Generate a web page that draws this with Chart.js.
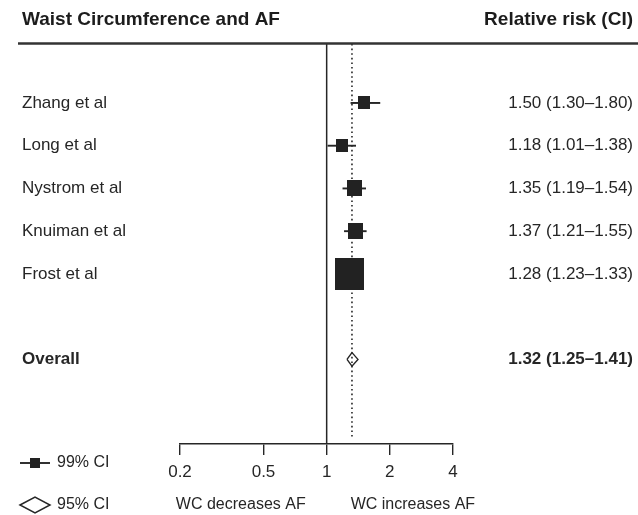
<!DOCTYPE html>
<html>
<head>
<meta charset="utf-8">
<title>Waist Circumference and AF</title>
<script src="https://cdn.jsdelivr.net/npm/chart.js@4.4.0/dist/chart.umd.min.js"></script>
<style>
  html, body { margin: 0; padding: 0; background: #fff; }
  canvas { display: block; }
</style>
</head>
<body>
<canvas id="forest" width="638" height="515"></canvas>
<script>
// data
const studies = ["Zhang et al", "Long et al", "Nystrom et al", "Knuiman et al", "Frost et al"];
const estimates = [1.50, 1.18, 1.35, 1.37, 1.28];
const lower = [1.30, 1.01, 1.19, 1.21, 1.23];
const upper = [1.80, 1.38, 1.54, 1.55, 1.33];
const weights = [9, 9, 14, 14, 54]; // box area ~ weight (estimated)
const overallLabel = "Overall";
const overallEst = 1.32;
const overallLower = 1.25;
const overallUpper = 1.41;
const xTicks = [0.2, 0.5, 1, 2, 4];

const INK = "#262626";
const FONT = '"Liberation Sans", Arial, Helvetica, sans-serif';

// rows: studies on 1..n, a blank row, then the pooled estimate
const overallRow = studies.length + 2;
const rowTicks = studies.map((s, i) => i + 1).concat([overallRow]);
const yMin = -0.38;
const yMax = 8.98;

const fmt = (e, l, u) => `${e.toFixed(2)} (${l.toFixed(2)}–${u.toFixed(2)})`;
const leftLabels = {};
const rightLabels = {};
studies.forEach((s, i) => {
  leftLabels[i + 1] = s;
  rightLabels[i + 1] = fmt(estimates[i], lower[i], upper[i]);
});
leftLabels[overallRow] = overallLabel;
rightLabels[overallRow] = fmt(overallEst, overallLower, overallUpper);

function boxImage(w) {
  const side = 3.9 * Math.sqrt(w);
  const c = document.createElement("canvas");
  c.width = Math.round(side);
  c.height = Math.round(side * 1.12);
  const g = c.getContext("2d");
  g.fillStyle = "#222";
  g.fillRect(0, 0, c.width, c.height);
  return c;
}

const line = (data, extra) => Object.assign({
  data: data,
  showLine: true,
  borderColor: INK,
  borderWidth: 1.9,
  pointRadius: 0,
  fill: false,
}, extra || {});

const datasets = [
  // study boxes (first = drawn on top)
  {
    data: estimates.map((e, i) => ({ x: e, y: i + 1 })),
    pointStyle: weights.map(boxImage),
    pointRadius: 5,
    showLine: false,
  },
  // confidence intervals
  ...studies.map((s, i) => line([{ x: lower[i], y: i + 1 }, { x: upper[i], y: i + 1 }])),
  // pooled diamond
  line([
    { x: overallLower, y: overallRow },
    { x: overallEst, y: overallRow - 0.16 },
    { x: overallUpper, y: overallRow },
    { x: overallEst, y: overallRow + 0.16 },
    { x: overallLower, y: overallRow },
  ], { borderWidth: 1.4 }),
  // dotted line at pooled estimate
  line([{ x: overallEst, y: yMin }, { x: overallEst, y: yMax - 0.12 }], {
    borderDash: [1.6, 3], borderWidth: 1.6,
  }),
  // line of no effect
  line([{ x: 1, y: yMin }, { x: 1, y: yMax }], { borderWidth: 1.5 }),
];

const yAxis = (position, labels) => ({
  type: "linear",
  position: position,
  reverse: true,
  min: yMin,
  max: yMax,
  grid: { display: false },
  border: { display: false },
  afterBuildTicks: (s) => { s.ticks = rowTicks.map((v) => ({ value: v })); },
  afterFit: (s) => { s.width = position === "left" ? 158 : 180; },
  ticks: {
    autoSkip: false,
    crossAlign: "far",
    color: INK,
    font: (c) => ({
      family: FONT,
      size: 17,
      weight: c.tick && c.tick.value === overallRow ? "bold" : "normal",
    }),
    callback: (v) => labels[v],
  },
});

const decor = {
  id: "decor",
  afterDraw(chart) {
    const { ctx } = chart;
    const x = chart.scales.x;
    ctx.save();
    ctx.fillStyle = "#1c1c1c";
    ctx.textBaseline = "alphabetic";
    ctx.font = `bold 19px ${FONT}`;
    ctx.textAlign = "left";
    ctx.fillText("Waist Circumference and AF", 22, 25);
    ctx.textAlign = "right";
    ctx.fillText("Relative risk (CI)", 633, 25);

    ctx.strokeStyle = "#333";
    ctx.lineWidth = 2.5;
    ctx.beginPath();
    ctx.moveTo(18, 43.5);
    ctx.lineTo(638, 43.5);
    ctx.stroke();

    // direction labels under the axis
    const x1 = x.getPixelForValue(1);
    ctx.fillStyle = INK;
    ctx.font = `16px ${FONT}`;
    ctx.textBaseline = "middle";
    ctx.textAlign = "right";
    ctx.fillText("WC decreases AF", x1 - 21, 505);
    ctx.textAlign = "left";
    ctx.fillText("WC increases AF", x1 + 24, 505);

    // key
    ctx.fillText("99% CI", 57, 463);
    ctx.fillText("95% CI", 57, 505);
    ctx.strokeStyle = INK;
    ctx.lineWidth = 1.9;
    ctx.beginPath();
    ctx.moveTo(20, 463);
    ctx.lineTo(50, 463);
    ctx.stroke();
    ctx.fillStyle = "#222";
    ctx.fillRect(30, 458, 10, 10);
    ctx.lineWidth = 1.5;
    ctx.beginPath();
    ctx.moveTo(20, 505);
    ctx.lineTo(35, 497);
    ctx.lineTo(50, 505);
    ctx.lineTo(35, 513);
    ctx.closePath();
    ctx.stroke();
    ctx.restore();
  },
};

new Chart(document.getElementById("forest"), {
  type: "scatter",
  data: { datasets: datasets },
  plugins: [decor],
  options: {
    responsive: false,
    animation: false,
    events: [],
    layout: { padding: { top: 44, left: 22, right: 5, bottom: 0 } },
    plugins: { legend: { display: false }, tooltip: { enabled: false } },
    scales: {
      x: {
        type: "logarithmic",
        position: "bottom",
        min: 0.2,
        max: 4,
        afterBuildTicks: (s) => { s.ticks = xTicks.map((v) => ({ value: v })); },
        afterFit: (s) => { s.height = 71; },
        grid: { drawOnChartArea: false, drawTicks: true, tickLength: 11, color: INK, lineWidth: 1.4 },
        border: { display: true, color: INK, width: 1.4 },
        ticks: {
          autoSkip: false,
          maxRotation: 0,
          color: INK,
          padding: 7,
          font: { family: FONT, size: 17 },
          callback: (v) => String(v),
        },
      },
      y: yAxis("left", leftLabels),
      y2: yAxis("right", rightLabels),
    },
  },
});
</script>
</body>
</html>
